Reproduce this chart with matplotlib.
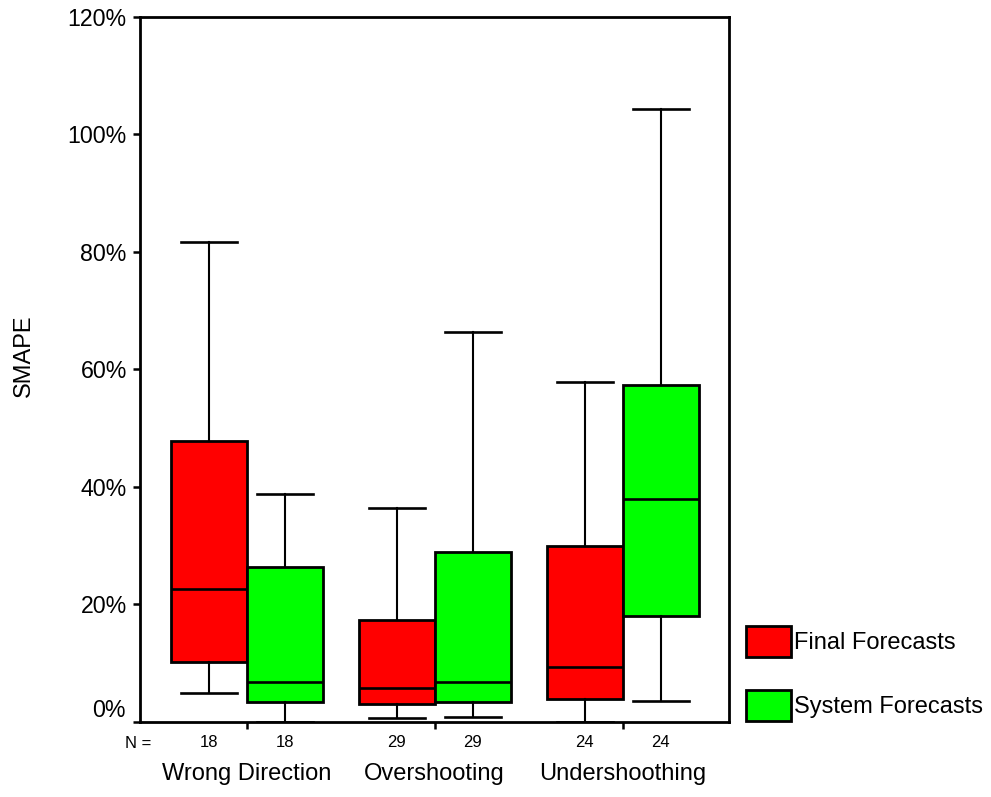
import matplotlib
matplotlib.use("Agg")
import matplotlib.pyplot as plt
from matplotlib.patches import Patch
from matplotlib.transforms import blended_transform_factory

plt.rcParams['font.family'] = ['Liberation Sans', 'DejaVu Sans']

categories = ["Wrong Direction", "Overshooting", "Undershoothing"]
series = ["Final Forecasts", "System Forecasts"]
colors = ["#FF0000", "#00FF00"]
counts = [[18, 18], [29, 29], [24, 24]]

# percent values per category: [Final, System]
q1 = [[10.2, 3.3], [3.0, 3.3], [3.85, 18.0]]
med = [[22.6, 6.7], [5.7, 6.7], [9.3, 37.9]]
q3 = [[47.8, 26.3], [17.3, 28.8], [29.96, 57.4]]
whislo = [[4.9, 0.0], [0.6, 0.8], [0.0, 3.5]]
whishi = [[81.7, 38.8], [36.3, 66.4], [57.8, 104.3]]

ytick_vals = [0, 20, 40, 60, 80, 100, 120]

fig = plt.figure(figsize=(9.91, 7.97), dpi=100)
ax = fig.add_axes([140/991, 1-721.6/797, 589/991, (721.6-17)/797])

offset = 0.2025
width = 0.405
stats, positions, facecols = [], [], []
for i, cat in enumerate(categories):
    for j in range(2):
        stats.append(dict(med=med[i][j], q1=q1[i][j], q3=q3[i][j],
                          whislo=whislo[i][j], whishi=whishi[i][j], label=""))
        positions.append(i + 1 + (offset if j else -offset))
        facecols.append(colors[j])

bp = ax.bxp(stats, positions=positions, widths=width, capwidths=0.298,
            patch_artist=True, showfliers=False,
            boxprops=dict(linewidth=2.0, edgecolor="black"),
            medianprops=dict(color="black", linewidth=1.9),
            whiskerprops=dict(color="black", linewidth=1.5),
            capprops=dict(color="black", linewidth=1.9))
for box, c in zip(bp["boxes"], facecols):
    box.set_facecolor(c)

ax.set_xlim(0.4324, 3.565)
ax.set_ylim(0, 120)
for s in ax.spines.values():
    s.set_linewidth(2.0)

ax.set_yticks(ytick_vals)
ax.set_yticklabels([""] + [f"{v}%" for v in ytick_vals[1:]])
ax.tick_params(axis="y", direction="out", length=5, width=1.8, pad=4.5, labelsize=16.7)
trans_y = blended_transform_factory(ax.transAxes, ax.transData)
ax.annotate("0%", xy=(0, 0), xycoords=trans_y, xytext=(-10, 8.3),
            textcoords="offset points", ha="right", va="center", fontsize=16.7)

ax.set_xticks([1, 2, 3])
ax.set_xticklabels(categories)
ax.tick_params(axis="x", which="major", direction="out", length=5, width=1.8,
               pad=25, labelsize=17)
ax.set_xticks(positions, minor=True)
ax.set_xticklabels([str(counts[k // 2][k % 2]) for k in range(6)], minor=True)
ax.tick_params(axis="x", which="minor", length=0, pad=10, labelsize=12)

fig.text(125/991, 1-743/797, "N =", ha="left", va="center", fontsize=12)
fig.text(24/991, 1-356/797, "SMAPE", rotation=90, ha="center", va="center", fontsize=17)

handles = [Patch(facecolor=c, edgecolor="black", linewidth=2.0) for c in colors]
ax.legend(handles, series, loc="lower left",
          bbox_to_anchor=(745.7/991, 1-721/797), bbox_transform=fig.transFigure,
          frameon=False, fontsize=17, handlelength=1.9, handleheight=1.63,
          handletextpad=0.15, labelspacing=1.4, borderpad=0, borderaxespad=0)

fig.savefig("out.png", dpi=100)
